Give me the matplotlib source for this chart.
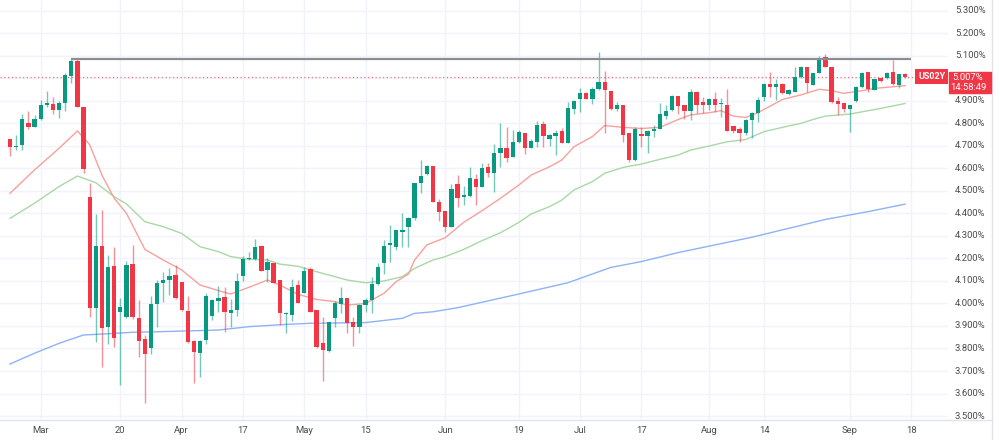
import numpy as np
import matplotlib.pyplot as plt
from matplotlib.transforms import blended_transform_factory
from matplotlib.patches import Rectangle
from matplotlib.lines import Line2D

# US02Y daily candles (values in %)
opens = [4.729, 4.696, 4.704, 4.801, 4.785, 4.819, 4.880, 4.886, 4.859, 4.889,
         5.012, 5.078, 4.871, 4.474, 3.978, 4.257, 3.897, 4.165, 3.964, 3.941,
         4.174, 3.937, 3.840, 3.804, 3.996, 4.089, 4.103, 4.128, 4.095, 3.967,
         3.833, 3.779, 3.838, 3.944, 4.009, 4.027, 3.959, 3.971, 4.122, 4.197,
         4.197, 4.255, 4.149, 4.181, 4.104, 3.952, 3.950, 4.082, 4.048, 4.153,
         3.971, 3.823, 3.790, 3.937, 3.998, 4.024, 3.918, 3.897, 3.993, 4.015,
         4.086, 4.178, 4.259, 4.249, 4.319, 4.338, 4.381, 4.536, 4.573, 4.612,
         4.449, 4.411, 4.341, 4.529, 4.471, 4.477, 4.551, 4.516, 4.608, 4.581,
         4.670, 4.692, 4.652, 4.717, 4.758, 4.692, 4.719, 4.797, 4.729, 4.744,
         4.764, 4.714, 4.865, 4.909, 4.936, 4.909, 4.952, 4.985, 4.945, 4.865,
         4.880, 4.758, 4.637, 4.753, 4.743, 4.767, 4.776, 4.833, 4.859, 4.923,
         4.883, 4.856, 4.938, 4.896, 4.881, 4.908, 4.884, 4.883, 4.788, 4.773,
         4.759, 4.815, 4.847, 4.915, 4.975, 4.962, 4.975, 4.929, 4.937, 5.004,
         5.049, 4.970, 5.025, 5.093, 5.052, 4.899, 4.892, 4.864, 4.901, 4.961,
         5.026, 4.948, 5.003, 5.001, 5.026, 4.972, 5.017]
highs = [4.729, 4.748, 4.841, 4.856, 4.835, 4.904, 4.944, 4.915, 4.900, 5.025,
         5.084, 5.084, 4.871, 4.534, 4.396, 4.415, 4.215, 4.251, 4.023, 4.189,
         4.260, 4.015, 3.860, 4.033, 4.104, 4.141, 4.156, 4.171, 4.095, 4.033,
         3.838, 3.838, 4.045, 4.021, 4.078, 4.072, 4.021, 4.137, 4.211, 4.230,
         4.285, 4.255, 4.200, 4.181, 4.104, 3.960, 4.107, 4.104, 4.163, 4.163,
         3.971, 3.941, 3.919, 4.012, 4.072, 4.024, 3.941, 3.998, 4.023, 4.119,
         4.181, 4.282, 4.348, 4.326, 4.403, 4.385, 4.536, 4.637, 4.615, 4.612,
         4.462, 4.411, 4.530, 4.570, 4.522, 4.608, 4.573, 4.622, 4.622, 4.707,
         4.803, 4.785, 4.770, 4.770, 4.758, 4.729, 4.810, 4.810, 4.751, 4.770,
         4.778, 4.896, 4.903, 4.955, 4.940, 4.963, 5.118, 5.034, 4.945, 4.896,
         4.880, 4.758, 4.782, 4.782, 4.770, 4.792, 4.889, 4.881, 4.925, 4.923,
         4.883, 4.951, 4.945, 4.918, 4.911, 4.941, 4.911, 4.951, 4.788, 4.782,
         4.817, 4.852, 4.915, 4.980, 5.029, 4.997, 4.977, 4.951, 5.052, 5.054,
         5.049, 5.025, 5.099, 5.106, 5.052, 4.918, 4.892, 4.881, 4.966, 5.029,
         5.026, 4.995, 5.003, 5.029, 5.081, 5.017, 5.022]
lows = [4.655, 4.681, 4.681, 4.773, 4.782, 4.815, 4.874, 4.841, 4.825, 4.855,
        4.977, 4.871, 4.581, 3.942, 3.830, 3.719, 3.820, 3.805, 3.638, 3.934,
        3.929, 3.761, 3.557, 3.776, 3.897, 4.005, 4.038, 4.021, 3.968, 3.826,
        3.645, 3.672, 3.820, 3.927, 3.962, 3.875, 3.894, 3.944, 4.101, 4.193,
        4.195, 4.144, 4.095, 4.089, 3.904, 3.870, 3.923, 4.003, 4.045, 3.960,
        3.800, 3.657, 3.786, 3.897, 3.956, 3.870, 3.811, 3.870, 3.963, 3.959,
        4.082, 4.131, 4.186, 4.237, 4.252, 4.252, 4.371, 4.489, 4.570, 4.452,
        4.368, 4.319, 4.341, 4.430, 4.437, 4.474, 4.437, 4.515, 4.563, 4.496,
        4.608, 4.630, 4.649, 4.714, 4.664, 4.689, 4.696, 4.696, 4.699, 4.658,
        4.711, 4.714, 4.840, 4.852, 4.906, 4.885, 4.948, 4.756, 4.859, 4.856,
        4.719, 4.630, 4.634, 4.696, 4.667, 4.741, 4.773, 4.818, 4.856, 4.841,
        4.818, 4.815, 4.844, 4.847, 4.859, 4.852, 4.829, 4.767, 4.758, 4.719,
        4.748, 4.733, 4.807, 4.900, 4.915, 4.904, 4.930, 4.926, 4.937, 5.000,
        4.941, 4.970, 5.022, 5.048, 4.888, 4.837, 4.852, 4.763, 4.896, 4.958,
        4.940, 4.948, 4.985, 4.995, 4.970, 4.955, 5.000]
closes = [4.696, 4.700, 4.819, 4.782, 4.819, 4.881, 4.892, 4.859, 4.889, 5.015,
          5.078, 4.871, 4.596, 3.981, 4.257, 3.893, 4.162, 3.845, 3.983, 4.171,
          3.941, 3.835, 3.774, 3.996, 4.089, 4.103, 4.122, 4.026, 3.971, 3.827,
          3.786, 3.832, 4.033, 4.015, 4.023, 3.962, 3.971, 4.100, 4.197, 4.200,
          4.249, 4.144, 4.186, 4.089, 3.956, 3.958, 4.075, 4.004, 4.144, 3.964,
          3.805, 3.793, 3.916, 4.004, 4.024, 3.912, 3.897, 3.992, 4.015, 4.086,
          4.160, 4.257, 4.267, 4.326, 4.326, 4.381, 4.536, 4.566, 4.612, 4.452,
          4.408, 4.341, 4.507, 4.470, 4.482, 4.557, 4.519, 4.600, 4.581, 4.670,
          4.689, 4.647, 4.716, 4.761, 4.689, 4.723, 4.793, 4.744, 4.747, 4.758,
          4.714, 4.867, 4.899, 4.936, 4.909, 4.951, 4.985, 4.948, 4.862, 4.880,
          4.748, 4.637, 4.776, 4.743, 4.767, 4.773, 4.841, 4.853, 4.923, 4.878,
          4.856, 4.938, 4.881, 4.881, 4.908, 4.881, 4.888, 4.767, 4.767, 4.756,
          4.815, 4.847, 4.904, 4.975, 4.960, 4.975, 4.933, 4.948, 5.007, 5.052,
          4.978, 5.025, 5.081, 5.052, 4.896, 4.884, 4.864, 4.881, 4.961, 5.025,
          4.951, 4.995, 4.989, 5.025, 4.973, 5.017, 5.007]

# moving averages, read at sample bars
ma_fast_bars = [0, 4, 8, 11, 13, 15, 17, 19, 22, 25, 28, 31, 34, 36, 39, 42, 44, 47,
                50, 53, 55, 58, 61, 63, 65, 66, 68, 71, 74, 77, 80, 83, 85, 88, 90,
                92, 95, 97, 100, 103, 106, 109, 111, 114, 116, 118, 120, 122, 126,
                129, 132, 134, 136, 139, 141, 146]
ma_fast = [4.489, 4.593, 4.689, 4.766, 4.705, 4.570, 4.467, 4.400, 4.240, 4.193,
           4.149, 4.082, 4.057, 4.042, 4.072, 4.104, 4.082, 4.040, 4.018, 4.008,
           3.993, 4.000, 4.045, 4.097, 4.131, 4.193, 4.260, 4.292, 4.360, 4.412,
           4.467, 4.526, 4.570, 4.607, 4.637, 4.696, 4.741, 4.790, 4.782, 4.777,
           4.782, 4.817, 4.837, 4.847, 4.856, 4.832, 4.826, 4.847, 4.906, 4.926,
           4.951, 4.945, 4.933, 4.945, 4.955, 4.967]
ma_mid_bars = [0, 4, 8, 11, 14, 17, 19, 22, 25, 28, 31, 34, 36, 39, 42, 44, 47, 50,
               53, 55, 58, 61, 64, 66, 69, 71, 74, 77, 80, 83, 85, 88, 90, 92, 95,
               97, 100, 103, 106, 109, 111, 114, 117, 120, 123, 126, 129, 131, 133,
               137, 140, 142, 146]
ma_mid = [4.378, 4.445, 4.519, 4.566, 4.536, 4.474, 4.442, 4.363, 4.341, 4.311,
          4.252, 4.230, 4.208, 4.196, 4.193, 4.175, 4.165, 4.141, 4.119, 4.104,
          4.092, 4.100, 4.119, 4.156, 4.193, 4.208, 4.240, 4.279, 4.314, 4.360,
          4.397, 4.430, 4.459, 4.504, 4.541, 4.578, 4.604, 4.619, 4.640, 4.659,
          4.681, 4.699, 4.718, 4.728, 4.763, 4.782, 4.800, 4.817, 4.832, 4.841,
          4.856, 4.866, 4.888]
ma_slow_bars = [0, 4, 8, 12, 15, 20, 25, 34, 39, 45, 49, 58, 64, 66, 69, 73, 83,
                91, 98, 103, 109, 121, 133, 140, 146]
ma_slow = [3.731, 3.779, 3.823, 3.860, 3.864, 3.872, 3.875, 3.882, 3.897, 3.907,
           3.912, 3.915, 3.934, 3.956, 3.963, 3.981, 4.042, 4.092, 4.160, 4.186,
           4.226, 4.294, 4.373, 4.408, 4.441]

resistance = 5.087
last_price = 5.007

tick_bars = [5, 18, 28, 38, 48, 58, 71, 83, 93, 103, 114, 123, 137, 147]
tick_labels = ["Mar", "20", "Apr", "17", "May", "15", "Jun", "19", "Jul", "17",
               "Aug", "14", "Sep", "18"]
y_ticks = np.round(np.arange(3.5, 5.31, 0.1), 1)

GREEN = "#089981"
RED = "#F23645"
TXT = "#4a4a4a"
FONT = "Roboto"

fig = plt.figure(figsize=(10, 4.4), dpi=100)
ax = fig.add_axes([0, 20 / 440, 0.948, 420 / 440])

o = np.array(opens); h = np.array(highs); l = np.array(lows); c = np.array(closes)
x = np.arange(len(o))
up = c >= o
cols = np.where(up, GREEN, RED)

# grid
for t in y_ticks:
    ax.axhline(t, color="#f0f3fa", lw=1, zorder=0)
for t in tick_bars:
    ax.axvline(t, color="#f0f3fa", lw=1, zorder=0)

# moving averages
ax.plot(ma_slow_bars, ma_slow, color="#8fb2f7", lw=1, zorder=1)
ax.plot(ma_mid_bars, ma_mid, color="#a9d8a6", lw=1, zorder=1)
ax.plot(ma_fast_bars, ma_fast, color="#f6a19c", lw=1, zorder=1)

# candles
ax.vlines(x, l, h, colors=cols, lw=1, alpha=0.55, zorder=2)
bottom = np.minimum(o, c)
height = np.maximum(np.abs(c - o), 0.004)
ax.bar(x, height, bottom=bottom, width=0.7, color=cols, lw=0, zorder=3)

# resistance + last price line
ax.hlines(resistance, 10, 147, color="#8a8d94", lw=1.6, zorder=4)
ax.axhline(last_price, color=RED, lw=0.9, ls=(0, (1, 2)), alpha=0.7, zorder=1)

ax.set_xlim(-1.63, 153.0)
ax.set_ylim(3.4825, 5.3475)
ax.set_xticks([])
ax.set_yticks([])
for s in ax.spines.values():
    s.set_visible(False)

# y labels on the right (5.000% sits under the price box)
for t in y_ticks:
    if abs(t - 5.0) < 1e-6:
        continue
    yf = ax.transData.transform((0, t))[1]
    fig.text(955 / 1000, yf / 440, f"{t:.3f}%", ha="left", va="center",
             fontsize=6.8, color=TXT, family=FONT)
# x labels
for b, lab in zip(tick_bars, tick_labels):
    xf = ax.transData.transform((b, 0))[0]
    fig.text(xf / 1000, 10 / 440, lab, ha="center", va="center",
             fontsize=6.8, color=TXT, family=FONT)

# price labels
trans = blended_transform_factory(ax.transAxes, ax.transData)
ax.text(0.997, last_price, "US02Y", transform=trans, ha="right", va="center",
        fontsize=6.5, color="white", fontweight="bold", family=FONT, zorder=6,
        bbox=dict(boxstyle="square,pad=0.3", fc=RED, ec="none"))
fig.patches.append(Rectangle((949 / 1000, 1 - 93 / 440), 42 / 1000, 21 / 440,
                             transform=fig.transFigure, color=RED, zorder=5))
fig.text(968 / 1000, 1 - 77 / 440, "5.007%", ha="center", va="center",
         fontsize=6.8, color="white", family=FONT, zorder=6)
fig.text(968 / 1000, 1 - 88 / 440, "14:58:49", ha="center", va="center",
         fontsize=6.8, color="white", family=FONT, zorder=6)

# frame lines
fig.add_artist(Line2D([0.992, 0.992], [0, 1], transform=fig.transFigure,
                      color="#e0e3eb", lw=1))
fig.add_artist(Line2D([0, 0.992], [20 / 440, 20 / 440], transform=fig.transFigure,
                      color="#e0e3eb", lw=1))

fig.savefig("out.png", dpi=100)
